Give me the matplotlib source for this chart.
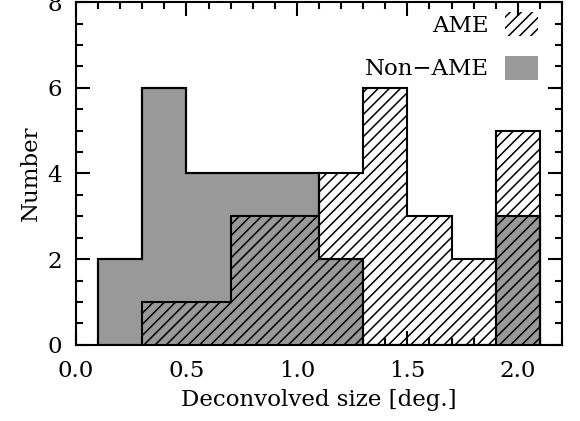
#!/usr/bin/env python3
import numpy as np
import matplotlib
matplotlib.use("Agg")
import matplotlib.pyplot as plt
from matplotlib.patches import Patch
from matplotlib.ticker import MultipleLocator

# histogram of deconvolved sizes, bins of 0.2 deg
bin_edges = [0.1, 0.3, 0.5, 0.7, 0.9, 1.1, 1.3, 1.5, 1.7, 1.9, 2.1]
ame_counts = [0, 1, 1, 3, 3, 4, 6, 3, 2, 5]
non_ame_counts = [2, 6, 4, 4, 4, 2, 0, 0, 0, 3]

x_ticks = [0.0, 0.5, 1.0, 1.5, 2.0]
y_ticks = [0, 2, 4, 6, 8]

plt.rcParams['font.family'] = ['DejaVu Serif']
plt.rcParams['font.size'] = 16.5
plt.rcParams['hatch.linewidth'] = 1.1

fig = plt.figure(figsize=(5.8, 4.21), dpi=100)
ax = fig.add_axes([0.131, 0.181, 0.838, 0.814])

gray = '#999999'
ax.stairs(non_ame_counts, bin_edges, fill=True, facecolor=gray,
          edgecolor='black', linewidth=1.5, zorder=2)
ax.stairs(ame_counts, bin_edges, fill=True, facecolor='none',
          edgecolor='black', hatch='///', linewidth=1.5, zorder=3)
ax.stairs(non_ame_counts, bin_edges, fill=False,
          edgecolor='black', linewidth=1.5, zorder=4)

ax.set_xlim(0, 2.2)
ax.set_ylim(0, 8)
ax.set_xticks(x_ticks)
ax.set_xticklabels(['{:.1f}'.format(t) for t in x_ticks])
ax.set_yticks(y_ticks)
ax.xaxis.set_minor_locator(MultipleLocator(0.1))
ax.yaxis.set_minor_locator(MultipleLocator(0.5))
ax.tick_params(which='both', direction='in', top=True, right=True, width=1.5)
ax.tick_params(which='major', length=10)
ax.tick_params(which='minor', length=5)
ax.tick_params(axis='x', which='major', pad=11)
ax.tick_params(axis='y', which='major', pad=10)
for sp in ax.spines.values():
    sp.set_linewidth(1.5)

ax.set_xlabel('Deconvolved size [deg.]', labelpad=5)
ax.set_ylabel('Number', labelpad=4)

handles = [Patch(facecolor='none', edgecolor='black', linewidth=0, hatch='///'),
           Patch(facecolor=gray, edgecolor='none', linewidth=0)]
ax.legend(handles, ['AME', 'Non\u2212AME'], loc='upper right',
          bbox_to_anchor=(0.969, 0.998), frameon=False,
          markerfirst=False, handlelength=1.45, handleheight=1.25,
          labelspacing=0.82, handletextpad=0.7, borderaxespad=0)

fig.savefig('out.png', dpi=100)
